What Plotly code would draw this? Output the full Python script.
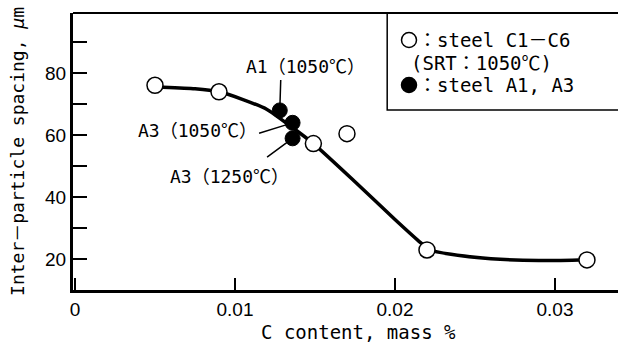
import plotly.graph_objects as go

# open circles: steel C1-C6 (SRT 1050C)
c_x = [0.0050, 0.0090, 0.0149, 0.0170, 0.0220, 0.0320]
c_y = [76.1, 74.0, 57.3, 60.5, 23.0, 19.8]

# filled circles: steel A1, A3
a_x = [0.0128, 0.0136, 0.0136]
a_y = [68.0, 64.0, 59.0]
a_labels = ["A1（1050℃）", "A3（1050℃）", "A3（1250℃）"]

# fitted curve
fit_x = [0.0055, 0.0075, 0.0090, 0.0105, 0.0120, 0.0135, 0.0149, 0.0175, 0.0200, 0.0215, 0.0222, 0.0235, 0.0260, 0.0290, 0.0315]
fit_y = [75.5, 75.0, 74.0, 71.5, 68.3, 62.8, 57.3, 45.0, 32.8, 25.8, 23.0, 21.6, 20.2, 19.6, 19.8]

x_ticks = [0, 0.01, 0.02, 0.03]
x_tick_text = ["0", "0.01", "0.02", "0.03"]
y_ticks = [20, 40, 60, 80]
y_minor = [30, 50, 70, 90]

SANS = "Liberation Sans, Noto Sans CJK JP, sans-serif"
MONO = "DejaVu Sans Mono, Noto Sans CJK JP, monospace"

fig = go.Figure()
fig.add_trace(go.Scatter(x=fit_x, y=fit_y, mode="lines",
                         line=dict(color="black", width=3.5, shape="spline", smoothing=0.6),
                         hoverinfo="skip", showlegend=False))
fig.add_trace(go.Scatter(x=c_x, y=c_y, mode="markers",
                         marker=dict(symbol="circle", size=16, color="white",
                                     line=dict(color="black", width=1.5)),
                         showlegend=False))
fig.add_trace(go.Scatter(x=a_x, y=a_y, mode="markers",
                         marker=dict(symbol="circle", size=15, color="black",
                                     line=dict(color="black", width=1)),
                         showlegend=False))

# leader lines (tail offsets in px) and label offsets (px, +y is down)
leaders = [(1, -32), (-35, 11), (-27, 20)]
label_off = [(26, -44), (-95, 8), (-63, 38)]
for xv, yv, lab, (ax, ay), (tx, ty) in zip(a_x, a_y, a_labels, leaders, label_off):
    fig.add_annotation(x=xv, y=yv, xref="x", yref="y", text="", showarrow=True,
                       ax=ax, ay=ay, axref="pixel", ayref="pixel",
                       arrowhead=0, arrowwidth=1.5, arrowcolor="black", standoff=6)
    fig.add_annotation(x=xv, y=yv, xref="x", yref="y", text=lab, showarrow=False,
                       xanchor="center", yanchor="middle",
                       xshift=tx, yshift=-ty, font=dict(size=18, color="black", family=MONO))

# legend box
fig.add_shape(type="rect", xref="paper", yref="paper", x0=0.5765, x1=1.02, y0=0.65, y1=1.0,
              line=dict(color="black", width=1.5), fillcolor="white", layer="below")
# legend symbols
px_x, px_y = 1 / 545, 1 / 277
for cy, fill in [(0.9025, "white"), (0.74, "black")]:
    cx = (409 - 73) * px_x
    fig.add_shape(type="circle", xref="paper", yref="paper",
                  x0=cx - 7.5 * px_x, x1=cx + 7.5 * px_x, y0=cy - 7.5 * px_y, y1=cy + 7.5 * px_y,
                  line=dict(color="black", width=1.5), fillcolor=fill)
leg_lines = [("：steel C1－C6", 0.630, 0.9025),
             ("(SRT：1050℃)", 0.617, 0.8195),
             ("：steel A1, A3", 0.630, 0.74)]
for txt, lx, ly in leg_lines:
    fig.add_annotation(x=lx, y=ly, xref="paper", yref="paper", text=txt, showarrow=False,
                       xanchor="left", yanchor="middle",
                       font=dict(size=19, color="black", family=MONO))

# top border
fig.add_shape(type="line", xref="paper", yref="paper", x0=0, x1=1.02, y0=1, y1=1,
              line=dict(color="black", width=2))

# axis titles
fig.add_annotation(x=-0.102, y=0.5, xref="paper", yref="paper",
                   text="Inter－particle spacing, <i>μ</i>m", textangle=-90, showarrow=False,
                   xanchor="center", yanchor="middle",
                   font=dict(size=18, color="black", family=MONO))
fig.add_annotation(x=0.523, y=-0.152, xref="paper", yref="paper",
                   text="C content, mass %", showarrow=False,
                   xanchor="center", yanchor="middle",
                   font=dict(size=19, color="black", family=MONO))

fig.update_xaxes(range=[-0.000125, 0.03394], tickvals=x_ticks, ticktext=x_tick_text,
                 ticks="inside", ticklen=12, tickwidth=1.5, tickcolor="black",
                 showline=True, linewidth=3, linecolor="black", showgrid=False, zeroline=False,
                 tickfont=dict(size=19, color="black", family=SANS))
fig.update_yaxes(range=[10.1, 99.4], tickvals=y_ticks,
                 ticks="inside", ticklen=14, tickwidth=1.5, tickcolor="black",
                 minor=dict(tickvals=y_minor, ticks="inside", ticklen=14, tickwidth=1.5, tickcolor="black"),
                 showline=True, linewidth=3, linecolor="black", showgrid=False, zeroline=False,
                 tickfont=dict(size=19, color="black", family=SANS))

fig.update_layout(width=618, height=350, margin=dict(l=73, r=0, t=13, b=60),
                  plot_bgcolor="white", paper_bgcolor="white", showlegend=False)

fig.write_html("out.html", config={"displayModeBar": False},
               post_script="document.body.style.margin='0px';")
